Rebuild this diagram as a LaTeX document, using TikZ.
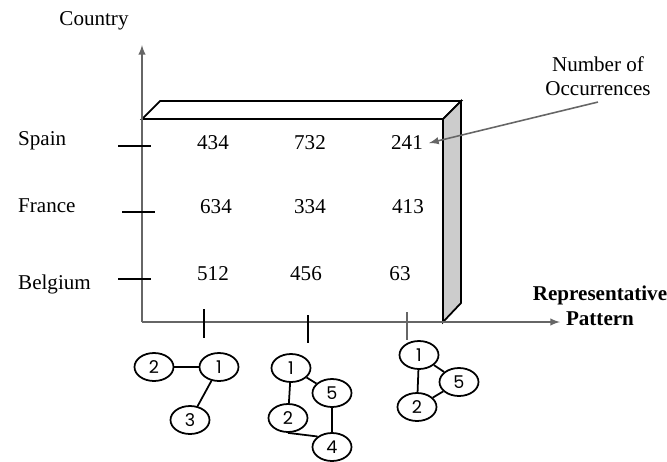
\documentclass[tikz,border=0pt]{standalone}
\usepackage{fontspec}
\setmainfont{Liberation Serif}
\newfontfamily\graphfont{Poppins}
\usetikzlibrary{shapes.geometric}
\begin{document}
\begin{tikzpicture}[x=0.02cm,y=-0.02cm,every node/.style={font=\fontsize{12}{14}\selectfont},
  axis/.style={black!60,line width=0.9pt,-latex},
  vtx/.style={draw,ellipse,line width=1pt,minimum width=0.78cm,minimum height=0.56cm,inner sep=0pt,font=\graphfont\fontsize{10}{12}\selectfont},
  edge/.style={line width=1pt}]
  \useasboundingbox (0,0) rectangle (667,461);
  % the cube that holds the counts
  \fill[white] (142,119) rectangle (443,322);
  \draw [line width=1pt,fill=white] (142,119) -- (160,101) -- (461,101) -- (443,119) -- cycle;
  \draw [line width=1pt,fill=black!20] (443,119) -- (461,101) -- (461,303) -- (443,322) -- cycle;
  \draw [line width=1pt] (142,119) -- (443,119);
  % axes
  \coordinate (o) at (142,322);
  \coordinate (ytip) at (142,45);
  \coordinate (xtip) at (560,322);
  \draw [axis] (o) -- (ytip);
  \draw [axis] (o) -- (xtip);
  \node (country) at (94,21) {Country};
  \node [font=\bfseries\fontsize{12}{14}\selectfont,align=center] (pattern) at (600,306) {Representative\\Pattern};
  % rows
  \node [anchor=west] (spain) at (12,141) {Spain};
  \node [anchor=west] (france) at (12,206) {France};
  \node [anchor=west] (belgium) at (12,284) {Belgium};
  \draw [line width=0.9pt] (118,146) -- (151,146);
  \draw [line width=0.9pt] (122,212) -- (155,212);
  \draw [line width=0.9pt] (118,279) -- (151,279);
  % counts
  \node (n434) at (213,143) {434};
  \node (n732) at (310,143) {732};
  \node (n241) at (407,143) {241};
  \node (n634) at (216,207) {634};
  \node (n334) at (310,207) {334};
  \node (n413) at (408,207) {413};
  \node (n512) at (213,274) {512};
  \node (n456) at (306,274) {456};
  \node (n63) at (400,274) {63};
  \node [align=center] (occ) at (598,76) {Number of\\Occurrences};
  \draw [black!60,line width=0.9pt,-latex] (occ.south) -- (n241.east);
  % columns
  \draw [line width=0.9pt] (204,309) -- (204,338);
  \draw [line width=0.9pt] (308,315) -- (308,343);
  \draw [black!60,line width=0.9pt] (407,312) -- (407,340);
  % first pattern
  \node [vtx] (a2) at (154,367) {2};
  \node [vtx] (a1) at (219,367) {1};
  \node [vtx] (a3) at (190,420) {3};
  \draw [edge] (a2) -- (a1);
  \draw [edge] (a1) -- (a3);
  % second pattern
  \node [vtx] (b1) at (291,368) {1};
  \node [vtx] (b5) at (332,393) {5};
  \node [vtx] (b2) at (288,418) {2};
  \node [vtx] (b4) at (332,447) {4};
  \draw [edge] (b1) -- (b2);
  \draw [edge] (b1) -- (b5);
  \draw [edge] (b5) -- (b4);
  \draw [edge] (b2.south) -- (b4.north west);
  % third pattern
  \node [vtx] (c1) at (419,355) {1};
  \node [vtx] (c5) at (459,382) {5};
  \node [vtx] (c2) at (417,407) {2};
  \draw [edge] (c1) -- (c2);
  \draw [edge] (c1) -- (c5);
  \draw [edge] (c2) -- (c5);
\end{tikzpicture}
\end{document}
